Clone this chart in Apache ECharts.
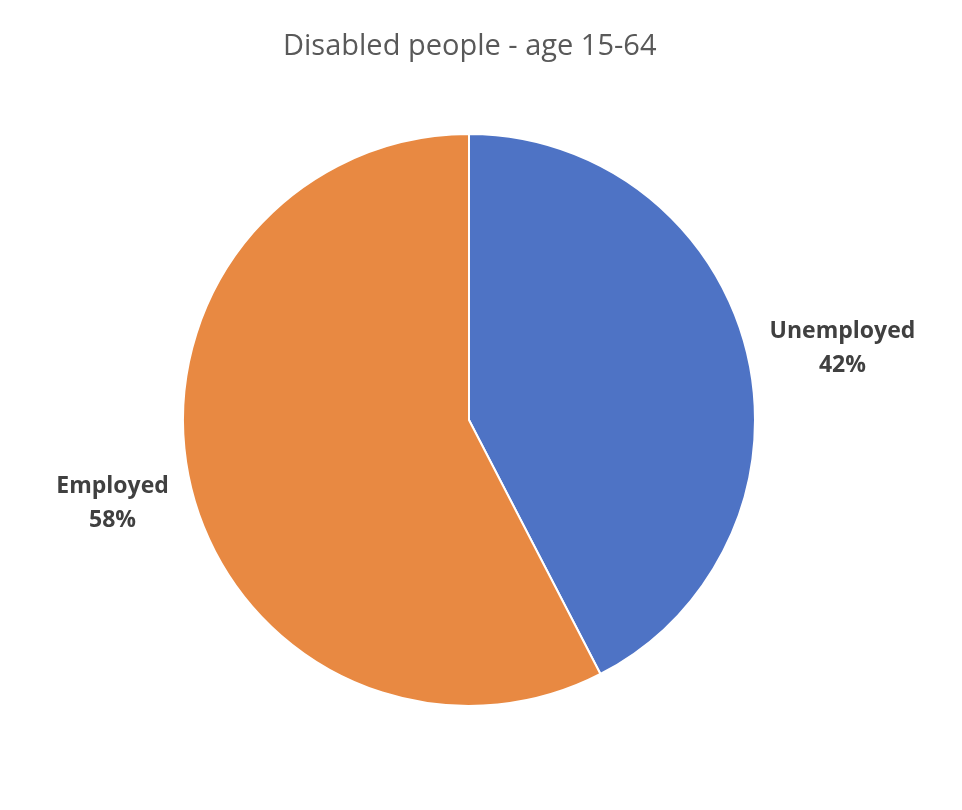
<!DOCTYPE html>
<html>
<head>
<meta charset="utf-8">
<script src="https://cdn.jsdelivr.net/npm/echarts@6/dist/echarts.min.js"></script>
<style>
  html, body { margin: 0; padding: 0; background: #fff; }
  #chart { width: 962px; height: 810px; }
</style>
</head>
<body>
<div id="chart"></div>
<script>
"use strict";
// data (slice boundary sits a bit past 42%)
var categories = ['Unemployed', 'Employed'];
var shares = [42.4, 57.6];

// look of each slice / label
var sliceLook = {
  Unemployed: { color: '#4E73C5', boxWidth: 150, padTop: 0 },
  Employed:   { color: '#E88942', boxWidth: 116, padTop: 24 }
};

var chart = echarts.init(document.getElementById('chart'));

var labelFont = {
  align: 'center',
  fontFamily: 'Open Sans',
  fontSize: 23,
  fontWeight: 'bold',
  lineHeight: 34,
  color: '#404040'
};

var pieData = categories.map(function (name, i) {
  var look = sliceLook[name];
  return {
    name: name,
    value: shares[i],
    itemStyle: { color: look.color },
    label: {
      rich: {
        n: echarts.util.extend({ width: look.boxWidth, padding: [look.padTop, 0, 0, 0] }, labelFont),
        v: echarts.util.extend({ width: look.boxWidth, padding: [look.padTop, 0, 0, 0] }, labelFont)
      }
    }
  };
});

chart.setOption({
  animation: false,
  title: {
    text: 'Disabled people - age 15-64',
    left: 278,
    top: 27,
    textStyle: {
      fontFamily: 'Open Sans',
      fontSize: 29,
      fontWeight: 'normal',
      color: '#595959'
    }
  },
  series: [{
    type: 'pie',
    center: [469, 420],
    radius: [0, 286],
    startAngle: 90,
    clockwise: true,
    itemStyle: { borderColor: '#fff', borderWidth: 2 },
    label: {
      show: true,
      position: 'outside',
      formatter: function (p) {
        return '{n|' + p.name + '}\n{v|' + Math.round(p.value) + '%}';
      }
    },
    labelLine: { show: false, length: 16, length2: 0 },
    data: pieData
  }]
});
</script>
</body>
</html>
